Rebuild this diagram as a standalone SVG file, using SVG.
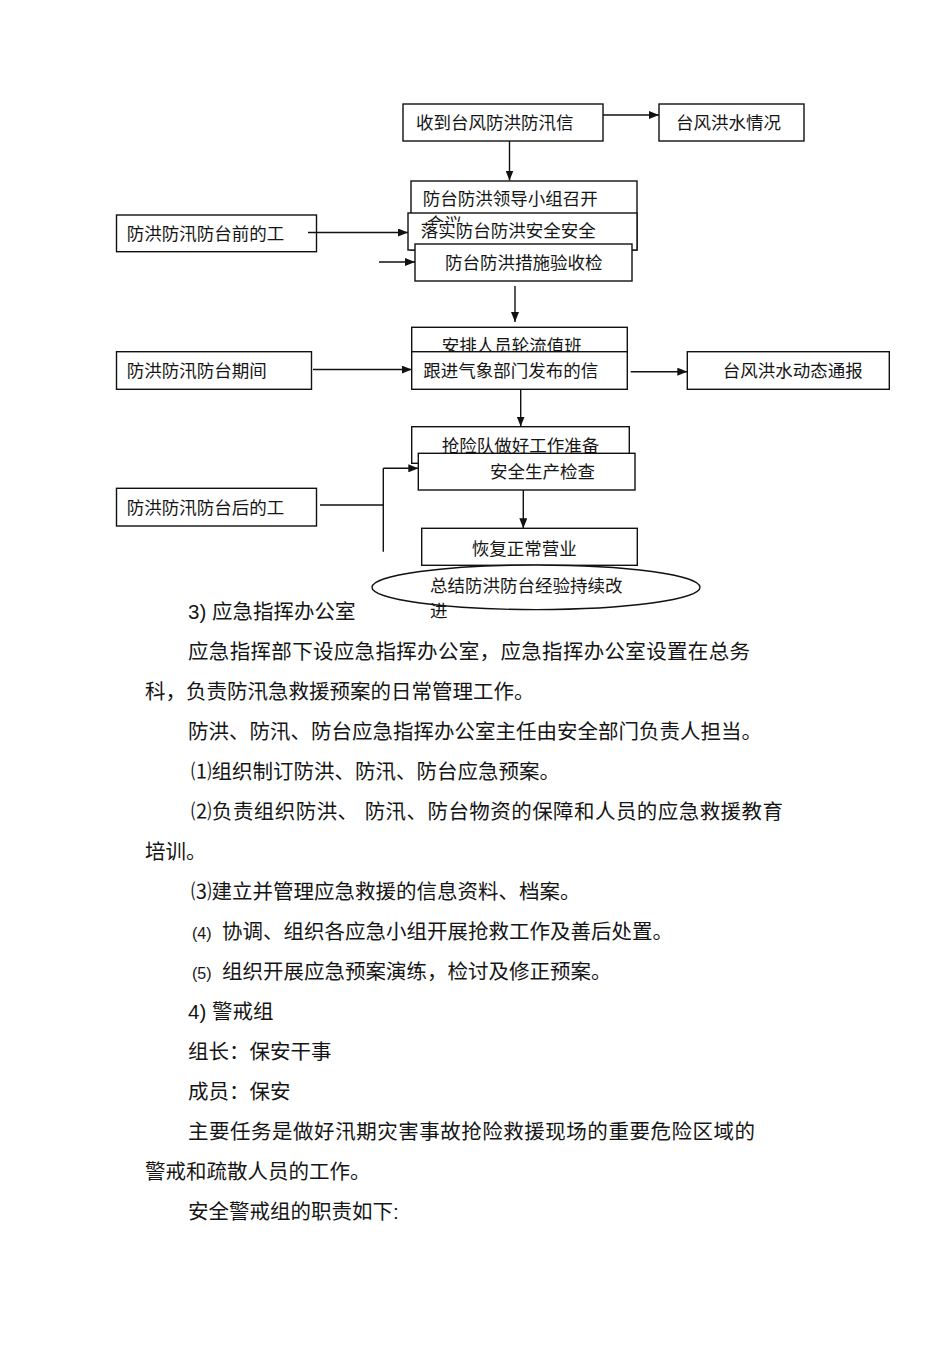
<svg xmlns="http://www.w3.org/2000/svg" width="950" height="1345" viewBox="0 0 950 1345">
<style>
.box{fill:#fff;stroke:#111;stroke-width:1.4}
.ln{fill:none;stroke:#111;stroke-width:1.4}
.ft{font-family:'Liberation Sans','Noto Sans CJK SC',sans-serif;font-size:17.5px;fill:#151515}
.bt{font-family:'Liberation Sans','Noto Sans CJK SC',sans-serif;font-size:20.5px;fill:#151515}
.sm{font-size:16px}
</style>
<defs>
<marker id="ah" markerUnits="userSpaceOnUse" markerWidth="10" markerHeight="8" refX="10" refY="4" orient="auto">
<path d="M0,0 L10,4 L0,8 z" fill="#111"/>
</marker>
<clipPath id="clipHy"><rect x="400" y="205" width="100" height="17"/></clipPath>
</defs>
<rect width="950" height="1345" fill="#fff"/>

<g id="n-receive"><rect class="box" x="403" y="104" width="200" height="37"/><text class="ft" x="416" y="128.6">收到台风防洪防汛信</text></g>
<g id="n-typhoon"><rect class="box" x="659" y="104" width="145" height="37"/><text class="ft" x="676" y="128.6">台风洪水情况</text></g>

<g id="n-before"><rect class="box" x="116.5" y="215" width="200" height="36.7"/><text class="ft" x="126.7" y="240">防洪防汛防台前的工</text></g>
<g id="n-meeting"><rect class="box" x="411" y="181" width="226" height="69"/><text class="ft" x="422.7" y="204.6">防台防洪领导小组召开</text></g>
<g id="n-implement"><rect class="box" x="408" y="213" width="229" height="37"/></g>
<g id="n-accept"><rect class="box" x="415" y="244" width="217" height="37"/><text class="ft" x="445" y="268.6">防台防洪措施验收检</text></g>
<text class="ft" x="426.7" y="229.6" clip-path="url(#clipHy)">会议</text>
<text class="ft" x="420.7" y="236.6">落实防台防洪安全安全</text>

<g id="n-during"><rect class="box" x="116.5" y="351.7" width="195" height="37.6"/><text class="ft" x="126.7" y="376.6">防洪防汛防台期间</text></g>
<g id="n-duty"><rect class="box" x="411.7" y="327.3" width="215.6" height="62"/><text class="ft" x="441.7" y="351.6">安排人员轮流值班</text></g>
<g id="n-follow"><rect class="box" x="411.7" y="351.7" width="215.6" height="37.6"/><text class="ft" x="423.3" y="376.6">跟进气象部门发布的信</text></g>
<g id="n-report"><rect class="box" x="687.3" y="351.7" width="202" height="37.6"/><text class="ft" x="722.7" y="376.6">台风洪水动态通报</text></g>

<g id="n-after"><rect class="box" x="116.5" y="488.3" width="200" height="37.7"/><text class="ft" x="126.7" y="514">防洪防汛防台后的工</text></g>
<g id="n-rescue"><rect class="box" x="411.7" y="426.7" width="217.6" height="36.6"/><text class="ft" x="441.7" y="451.6">抢险队做好工作准备</text></g>
<g id="n-check"><rect class="box" x="418.3" y="453.3" width="216.7" height="36.7"/><text class="ft" x="490" y="478.3">安全生产检查</text></g>
<g id="n-resume"><rect class="box" x="421.7" y="528.3" width="215.6" height="37"/><text class="ft" x="471.7" y="555">恢复正常营业</text></g>
<g id="n-summary"><ellipse class="box" cx="536" cy="587.3" rx="164" ry="22.3"/><text class="ft" x="430" y="591.6">总结防洪防台经验持续改</text><text class="ft" x="430" y="616.6">进</text></g>

<g id="connectors">
<line class="ln" x1="603" y1="115" x2="659" y2="115" marker-end="url(#ah)"/>
<line class="ln" x1="509.5" y1="141" x2="509.5" y2="180.5" marker-end="url(#ah)"/>
<line class="ln" x1="308" y1="232.5" x2="408" y2="232.5" marker-end="url(#ah)"/>
<line class="ln" x1="379" y1="262" x2="415" y2="262" marker-end="url(#ah)"/>
<line class="ln" x1="515" y1="286" x2="515" y2="322" marker-end="url(#ah)"/>
<line class="ln" x1="313" y1="369.5" x2="411.7" y2="369.5" marker-end="url(#ah)"/>
<line class="ln" x1="630.7" y1="371.7" x2="687.3" y2="371.7" marker-end="url(#ah)"/>
<line class="ln" x1="520.7" y1="389.3" x2="520.7" y2="426.5" marker-end="url(#ah)"/>
<line class="ln" x1="320" y1="505" x2="383.3" y2="505"/>
<line class="ln" x1="383.3" y1="468.3" x2="383.3" y2="551.7"/>
<line class="ln" x1="383.3" y1="468.3" x2="418.3" y2="468.3" marker-end="url(#ah)"/>
<line class="ln" x1="523.3" y1="490" x2="523.3" y2="528.3" marker-end="url(#ah)"/>
</g>

<g id="body-text">
<text class="bt" x="188" y="619">3) 应急指挥办公室</text>
<text class="bt" x="188" y="659" textLength="562" lengthAdjust="spacing">应急指挥部下设应急指挥办公室，应急指挥办公室设置在总务</text>
<text class="bt" x="145" y="699">科，负责防汛急救援预案的日常管理工作。</text>
<text class="bt" x="188" y="739">防洪、防汛、防台应急指挥办公室主任由安全部门负责人担当。</text>
<text class="bt" x="191" y="779">⑴组织制订防洪、防汛、防台应急预案。</text>
<text class="bt" x="191" y="819" textLength="592" lengthAdjust="spacing">⑵负责组织防洪、 防汛、防台物资的保障和人员的应急救援教育</text>
<text class="bt" x="145" y="859">培训。</text>
<text class="bt" x="191" y="899">⑶建立并管理应急救援的信息资料、档案。</text>
<text class="bt" x="192" y="939"><tspan class="sm">(4)</tspan><tspan x="222">协调、组织各应急小组开展抢救工作及善后处置。</tspan></text>
<text class="bt" x="192" y="979"><tspan class="sm">(5)</tspan><tspan x="222">组织开展应急预案演练，检讨及修正预案。</tspan></text>
<text class="bt" x="188" y="1019">4) 警戒组</text>
<text class="bt" x="188" y="1059">组长：保安干事</text>
<text class="bt" x="188" y="1099">成员：保安</text>
<text class="bt" x="188" y="1139" textLength="567" lengthAdjust="spacing">主要任务是做好汛期灾害事故抢险救援现场的重要危险区域的</text>
<text class="bt" x="145" y="1179">警戒和疏散人员的工作。</text>
<text class="bt" x="188" y="1219">安全警戒组的职责如下:</text>
</g>
</svg>
